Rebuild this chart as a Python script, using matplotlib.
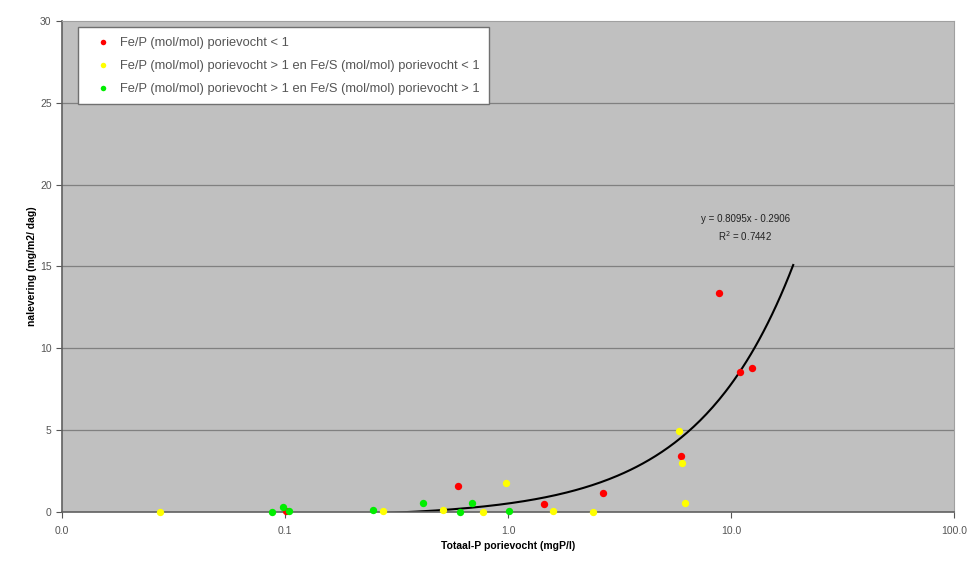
import numpy as np
import matplotlib.pyplot as plt
from matplotlib.ticker import FixedLocator, FuncFormatter

plt.rcParams['font.family'] = ['Liberation Sans', 'DejaVu Sans']

# Fe/P < 1
red_x = [8.83, 10.97, 12.42, 5.97, 2.67, 1.45, 0.597, 0.101]
red_y = [13.38, 8.55, 8.80, 3.42, 1.16, 0.49, 1.59, 0.06]

# Fe/P > 1 en Fe/S < 1
yellow_x = [5.84, 6.0, 6.22, 1.59, 2.40, 0.98, 0.77, 0.51, 0.275, 0.0275]
yellow_y = [4.95, 2.99, 0.55, 0.06, 0.0, 1.77, 0.0, 0.12, 0.06, 0.0]

# Fe/P > 1 en Fe/S > 1
green_x = [0.0875, 0.098, 0.104, 0.248, 0.416, 0.69, 0.61, 1.01]
green_y = [0.0, 0.3, 0.06, 0.12, 0.55, 0.55, 0.0, 0.06]

labels = [
    "Fe/P (mol/mol) porievocht < 1",
    "Fe/P (mol/mol) porievocht > 1 en Fe/S (mol/mol) porievocht < 1",
    "Fe/P (mol/mol) porievocht > 1 en Fe/S (mol/mol) porievocht > 1",
]

trend_slope = 0.8095
trend_intercept = -0.2906
trend_r2 = 0.7442
trend_x_end = 19.0

fig = plt.figure(figsize=(9.77, 5.64), dpi=100)
ax = fig.add_axes([0.0635, 0.0922, 0.913, 0.8706])
ax.set_facecolor('#c0c0c0')

ax.set_xscale('log')
ax.set_xlim(0.01, 100)
ax.set_ylim(0, 30)

# horizontal gridlines
for yv in [5, 10, 15, 20, 25]:
    ax.axhline(yv, color='#808080', lw=0.9, zorder=1)

# trendline (linear fit shown on log x-axis)
all_x = red_x + yellow_x + green_x
tx = np.logspace(np.log10(min(all_x)), np.log10(trend_x_end), 300)
ty = trend_slope * tx + trend_intercept
ax.plot(tx, ty, color='black', lw=1.5, zorder=2)

ms = 28
ax.scatter(red_x, red_y, s=ms, color='#ff0000', label=labels[0], zorder=3, linewidths=0, clip_on=False)
ax.scatter(yellow_x, yellow_y, s=ms, color='#ffff00', label=labels[1], zorder=3, linewidths=0, clip_on=False)
ax.scatter(green_x, green_y, s=ms, color='#00ee00', label=labels[2], zorder=3, linewidths=0, clip_on=False)

ax.text(11.6, 16.45, f"y = {trend_slope}x - {abs(trend_intercept)}\nR$^2$ = {trend_r2}",
        fontsize=7, ha='center', va='bottom', color='#222222', linespacing=1.4)

ax.xaxis.set_major_locator(FixedLocator([0.01, 0.1, 1, 10, 100]))
ax.xaxis.set_minor_locator(FixedLocator([]))
ax.xaxis.set_major_formatter(FuncFormatter(lambda v, p: f"{v:.1f}"))
ax.set_yticks([0, 5, 10, 15, 20, 25, 30])
ax.tick_params(axis='both', labelsize=7.5, colors='#555555', length=4, width=0.8, direction='out')
ax.tick_params(axis='x', pad=6)

for side in ['left', 'bottom']:
    ax.spines[side].set_color('#606060')
    ax.spines[side].set_linewidth(1.2)
for side in ['top', 'right']:
    ax.spines[side].set_color('#a0a0a0')
    ax.spines[side].set_linewidth(0.8)

ax.set_xlabel("Totaal-P porievocht (mgP/l)", fontsize=7.5, fontweight='bold', labelpad=4)
ax.set_ylabel("nalevering (mg/m2/ dag)", fontsize=7.5, fontweight='bold', labelpad=2)

leg = ax.legend(loc='upper left', bbox_to_anchor=(0.018, 0.988), borderaxespad=0, fontsize=9.3,
                frameon=True, fancybox=False, handletextpad=0.2, handlelength=2.3,
                borderpad=0.75, labelspacing=0.85, scatterpoints=1, markerscale=0.75)
leg.get_frame().set_edgecolor('#707070')
leg.get_frame().set_linewidth(1.0)
leg.get_frame().set_facecolor('white')
leg.get_frame().set_alpha(1)
for t in leg.get_texts():
    t.set_color('#555555')

fig.savefig('out.png', dpi=100)
